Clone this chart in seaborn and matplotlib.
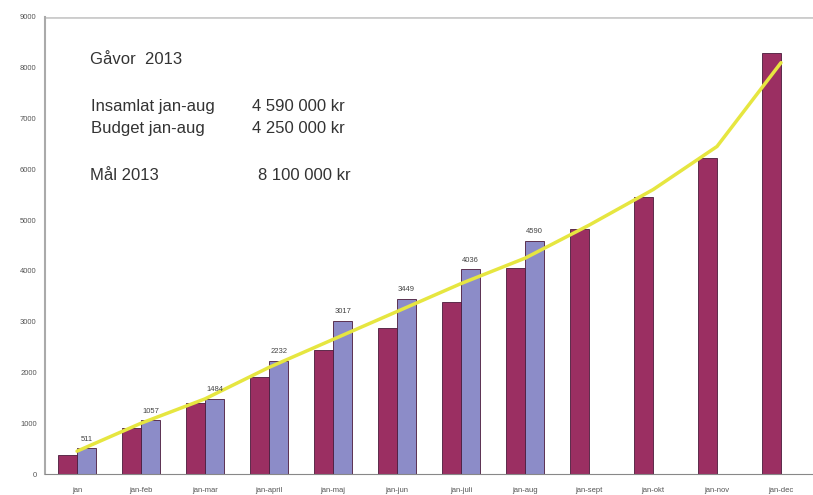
import numpy as np
import pandas as pd
import matplotlib
matplotlib.use('Agg')
import matplotlib.pyplot as plt
import seaborn as sns

months = ['jan', 'jan-feb', 'jan-mar', 'jan-april', 'jan-maj', 'jan-jun',
          'jan-juli', 'jan-aug', 'jan-sept', 'jan-okt', 'jan-nov', 'jan-dec']
prev_year = [380, 905, 1400, 1910, 2440, 2870, 3390, 4060, 4820, 5450, 6220, 8290]
gifts_2013 = [511, 1057, 1484, 2232, 3017, 3449, 4036, 4590,
              np.nan, np.nan, np.nan, np.nan]
budget = [450, 1000, 1480, 2100, 2650, 3200, 3750, 4250, 4900, 5600, 6450, 8100]

sns.set_style('white')
plt.rcParams['font.family'] = ['Liberation Sans', 'DejaVu Sans']

df = pd.DataFrame({'month': months * 2,
                   'value': prev_year + gifts_2013,
                   'series': ['2012'] * 12 + ['2013'] * 12})

fig = plt.figure(figsize=(8.13, 4.95), dpi=100)
ax = fig.add_axes([0.0554, 0.0424, 0.9446, 0.9233])

sns.barplot(data=df, x='month', y='value', hue='series', order=months,
            palette=['#9b2f62', '#8c8cc8'], saturation=1, width=0.6,
            edgecolor='#4a1a3a', linewidth=0.6, legend=False, ax=ax)
sns.lineplot(x=np.arange(len(months)), y=budget, color='#e6e640',
             linewidth=2.5, ax=ax)

# labels above the 2013 bars
for p in ax.containers[1]:
    if p is None:
        continue
    h = p.get_height()
    if np.isnan(h) or h == 0:
        continue
    ax.annotate(f'{h:.0f}', (p.get_x() + p.get_width() / 2, h),
                xytext=(0, 4), textcoords='offset points', ha='center',
                va='bottom', fontsize=5.5, color='#444444')

ax.set_xlim(-0.5, 11.5)
ax.set_ylim(0, 9000)
ax.set_yticks(range(0, 9001, 1000))
ax.set_xlabel('')
ax.set_ylabel('')
ax.tick_params(axis='y', labelsize=5.5, colors='#555555', length=3, pad=3)
ax.tick_params(axis='x', labelsize=5.5, colors='#555555', length=0, pad=9)
ax.set_xticks(np.arange(0.5, 11.5, 1), minor=True)
ax.tick_params(axis='x', which='minor', length=3, color='#777777', direction='out')
ax.axhline(9000, color='#cccccc', linewidth=2)
for s in ['top', 'right']:
    ax.spines[s].set_visible(False)
ax.spines['left'].set_color('#aaaaaa')
ax.spines['left'].set_linewidth(1.5)
ax.spines['bottom'].set_color('#888888')

txt = dict(transform=ax.transAxes, fontsize=12, color='#333333', va='center')
ax.text(0.058, 0.906, 'Gåvor  2013', **txt)
ax.text(0.060, 0.805, 'Insamlat jan-aug', **txt)
ax.text(0.2695, 0.805, '4 590 000 kr', **txt)
ax.text(0.060, 0.757, 'Budget jan-aug', **txt)
ax.text(0.2695, 0.757, '4 250 000 kr', **txt)
ax.text(0.058, 0.654, 'Mål 2013', **txt)
ax.text(0.277, 0.654, '8 100 000 kr', **txt)

fig.savefig('out.png', dpi=100)
